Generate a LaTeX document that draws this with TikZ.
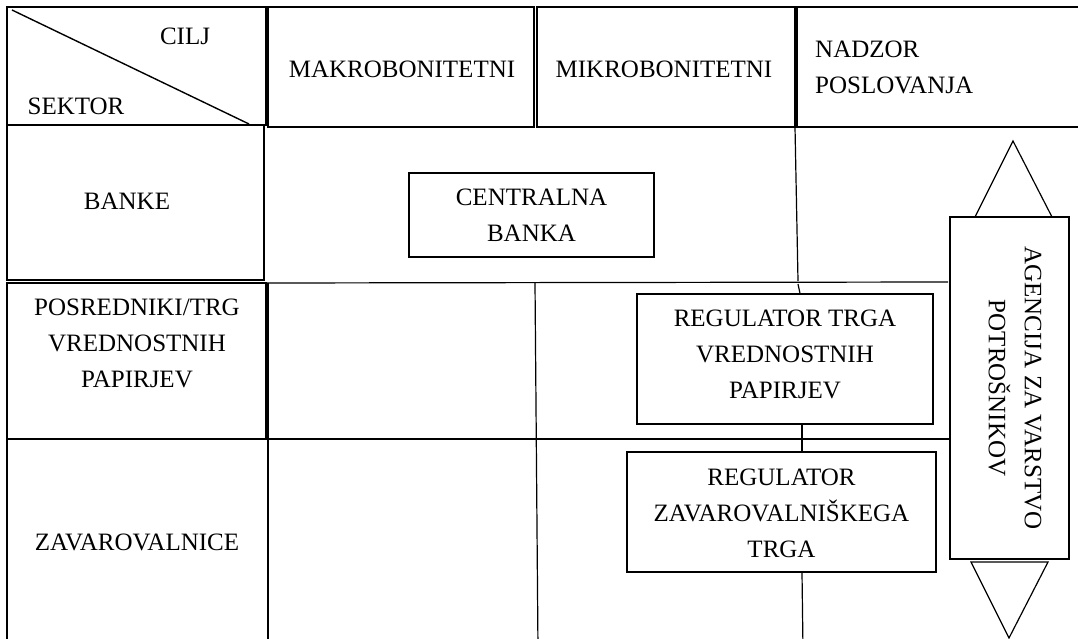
\documentclass[tikz,border=0pt]{standalone}
\usepackage{fontspec}
\setmainfont{Liberation Serif}
\newcommand\tfont{\fontsize{25}{36}\selectfont}
\tikzset{
  ln/.style={line width=1.2pt, black},
  box/.style={draw, line width=1.2pt, rectangle, inner sep=0pt, align=center, font=\tfont},
  txt/.style={inner sep=0pt, align=center, font=\tfont},
}
\begin{document}
\begin{tikzpicture}[x=1pt,y=-1pt]
\useasboundingbox (0,0) rectangle (1078,639);
\clip (0,0) rectangle (1078,639);
% header row
\draw[ln] (7,7) rectangle (266,125);
\draw[line width=1.4pt] (12,10) -- (249,124);
\node[txt] (cilj) at (185,36) {CILJ};
\node[txt] (sektor) at (76,106) {SEKTOR};
\draw[ln] (268,7) rectangle (534,127);
\node[txt] (makro) at (402,69) {MAKROBONITETNI};
\draw[ln] (537,7) rectangle (795,127);
\node[txt] (mikro) at (664,69) {MIKROBONITETNI};
\draw[ln] (797,7) rectangle (1090,127);
\node[txt, anchor=west, align=left] (nadzor) at (815,67) {NADZOR\\POSLOVANJA};
% left column
\draw[ln] (7,125) rectangle (264,280);
\node[txt] (banke) at (127,201) {BANKE};
\draw[ln] (7,283) rectangle (266,439);
\node[txt] (posr) at (137,343) {POSREDNIKI/TRG\\VREDNOSTNIH\\PAPIRJEV};
\draw[ln] (7,439) rectangle (268,650);
\node[txt] (zav) at (137,542) {ZAVAROVALNICE};
% grid lines
\draw[ln] (795,127) -- (798,281);
\draw[ln] (266,283) -- (948,282);
\draw[ln] (268,283) -- (268,650);
\draw[ln] (535,283) -- (538,650);
\draw[ln] (269,439) -- (950,439);
% boxes
\node[box, minimum width=245, minimum height=84] (cb) at (531.5,215) {CENTRALNA\\BANKA};
\node[box, minimum width=296, minimum height=130] (rtv) at (785,359) {};
\node[txt] (rtvt) at (785,354) {REGULATOR TRGA\\VREDNOSTNIH\\PAPIRJEV};
\node[box, minimum width=309, minimum height=120] (rzt) at (781.5,512) {};
\node[txt] (rztt) at (781.5,513) {REGULATOR\\ZAVAROVALNIŠKEGA\\TRGA};
\node[box, minimum width=119, minimum height=342] (ag) at (1009.5,388) {};
\node[txt, rotate=-90] (agtext) at (1015,388) {AGENCIJA ZA VARSTVO\\POTROŠNIKOV};
% connectors
\coordinate (d1) at (798,284);
\coordinate (d2) at (800,0);
\coordinate (d3) at (802,0);
\coordinate (d4) at (803,650);
\draw[ln] (d1) -- (rtv.north -| d2);
\draw[ln] (rtv.south -| d3) -- (rzt.north -| d3);
\draw[ln] (rzt.south -| d3) -- (d4);
% triangles
\draw[ln, line join=miter] (975,217) -- (1013,141) -- (1052,217) -- cycle;
\draw[line width=2pt] (975,217) -- (1052,217);
\draw[ln, line join=miter] (971,562) -- (1009,638) -- (1048,562) -- cycle;
\end{tikzpicture}
\end{document}
